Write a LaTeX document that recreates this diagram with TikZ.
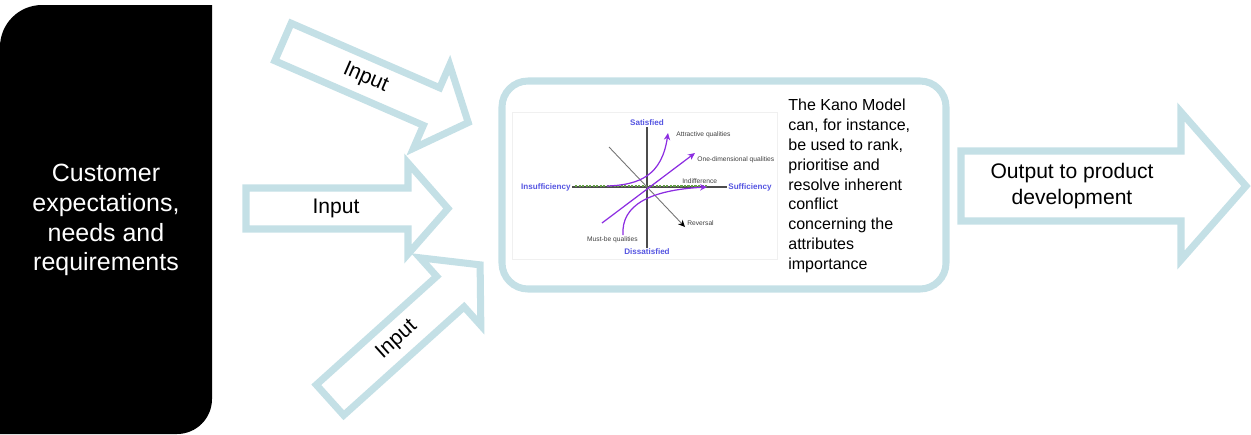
\documentclass[tikz,border=0pt]{standalone}
\usepackage{fontspec}
\setmainfont{Liberation Sans}
\usetikzlibrary{arrows.meta}

\definecolor{arrowblue}{RGB}{196,224,230}
\definecolor{kanopurple}{RGB}{140,45,225}
\definecolor{kanoblue}{RGB}{85,85,225}
\definecolor{kanogreen}{RGB}{100,160,70}

\tikzset{
  blockarrow/.style={draw=arrowblue, line width=4pt, fill=white, line join=miter},
  arrowtext/.style={font=\fontsize{12}{14.7}\selectfont, inner sep=0, align=center},
  axislabel/.style={font=\bfseries\fontsize{4.6}{5}\selectfont, text=kanoblue, inner sep=0.6pt},
  qualitylabel/.style={font=\fontsize{3.8}{4.5}\selectfont, text=black!75, inner sep=0},
  kanocurve/.style={draw=kanopurple, line width=0.7pt, -{Stealth[length=4pt,width=3.6pt]}},
}

\newcommand{\inarrow}[3]{% name, tail, angle
  \begin{scope}[shift={#2},rotate=#3]
    \draw[blockarrow] (0,-20.5) -- (162,-20.5) -- (162,-45.5) -- (202,0)
      -- (162,45.5) -- (162,20.5) -- (0,20.5) -- cycle;
    \node[arrowtext,rotate=#3] (#1) at (90,0) {Input};
  \end{scope}}

\begin{document}
\begin{tikzpicture}[x=0.02cm,y=-0.02cm]
  \useasboundingbox (0,0) rectangle (1251,434);
%
  \fill[black] (0,434) [rounded corners=0.84cm] -- (0,5) [sharp corners] -- (212,5)
    [rounded corners=0.7cm] -- (212,434) [sharp corners] -- cycle;
  \node[text=white, align=center, inner sep=0, font=\fontsize{14.2}{17}\selectfont] (customer)
    at (106,220) {Customer\\expectations,\\needs and\\requirements};
%
  \inarrow{input1}{(283,42)}{-23.5}
  \inarrow{input2}{(246,208.5)}{0}
  \inarrow{input3}{(330,400)}{42}
%
  \draw[arrowblue, line width=4pt, rounded corners=0.52cm] (502,81) rectangle (946,289);
  \draw[black!6, line width=0.4pt] (512,112) rectangle (777,259);
%
  % kano diagram
  \node[axislabel] (sat) at (647,123) {Satisfied};
  \node[axislabel] (dissat) at (647,252) {Dissatisfied};
  \node[axislabel, anchor=east] (insuf) at (572,187) {Insufficiency};
  \node[axislabel, anchor=west] (suf) at (727,187) {Sufficiency};
  \draw[black!70, line width=0.7pt] (sat.south) -- (dissat.north);
  \draw[black!70, line width=0.7pt] (insuf.east) -- (suf.west);
  \draw[kanogreen, line width=0.6pt, dash pattern=on 1.2pt off 0.8pt] (575,186) -- (708,186);
%
  \coordinate (rev0) at (609,147);
  \coordinate (rev1) at (685,227);
  \draw[black!55, line width=0.5pt, -{Stealth[length=4pt,width=3.6pt,color=black]}] (rev0) -- (rev1);
  \coordinate (one0) at (602,223);
  \coordinate (one1) at (695,153);
  \draw[kanocurve] (one0) -- (one1);
  \coordinate (att0) at (607,186);
  \coordinate (att1) at (668,133);
  \draw[kanocurve] (att0) .. controls (640,185) and (662,175) .. (att1);
  \coordinate (must0) at (623,235);
  \coordinate (must1) at (707,187);
  \draw[kanocurve] (must0) .. controls (621,205) and (650,190) .. (must1);
%
  \node[qualitylabel, anchor=west] (attlbl) at (676,135) {Attractive qualities};
  \node[qualitylabel, anchor=west] (onelbl) at (697,160) {One-dimensional qualities};
  \node[qualitylabel, anchor=west] (indlbl) at (682,181) {Indifference};
  \node[qualitylabel, anchor=west] (revlbl) at (687,223) {Reversal};
  \node[qualitylabel, anchor=east] (mustlbl) at (638,240) {Must-be qualities};
%
  \node[anchor=west, align=left, inner sep=0, font=\fontsize{9.1}{11.3}\selectfont] (kanotext)
    at (788,186) {The Kano Model\\can, for instance,\\be used to rank,\\prioritise and\\resolve inherent\\conflict\\concerning the\\attributes\\importance};
%
  \draw[blockarrow] (961,151) -- (1181,151) -- (1181,112) -- (1246,186)
    -- (1181,260) -- (1181,221) -- (961,221) -- cycle;
  \node[arrowtext] (output) at (1072,186) {Output to product\\development};
\end{tikzpicture}
\end{document}
